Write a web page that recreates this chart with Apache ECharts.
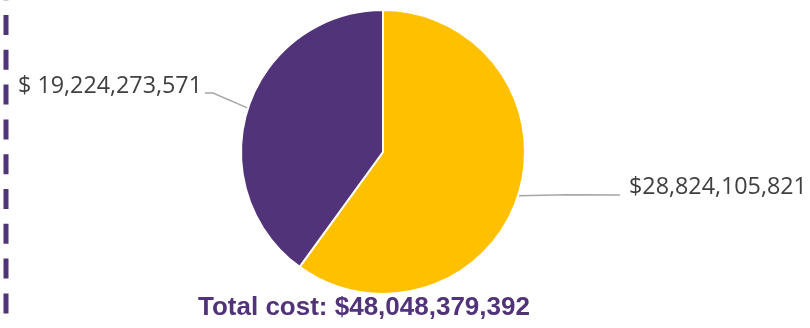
<!DOCTYPE html>
<html>
<head>
<meta charset="utf-8">
<script src="https://cdn.jsdelivr.net/npm/echarts@6/dist/echarts.min.js"></script>
<style>html,body{margin:0;padding:0;background:#fff;}#c{width:810px;height:328px;}</style>
</head>
<body>
<div id="c"></div>
<script>
var categories = ['Cost A', 'Cost B'];
var values = [28824105821, 19224273571];
var labelTexts = ['$28,824,105,821', '$ 19,224,273,571'];
var totalText = 'Total cost: $48,048,379,392';
var colors = ['#FFC000', '#503378'];

var chart = echarts.init(document.getElementById('c'), null, {renderer: 'canvas'});
var data = categories.map(function (c, i) {
  return { name: c, value: values[i], itemStyle: { color: colors[i] } };
});
chart.setOption({
  animation: false,
  graphic: [
    { type: 'line', shape: { x1: 6, y1: -19.8, x2: 6, y2: 340 },
      style: { stroke: '#503378', lineWidth: 5, lineDash: [20, 14.8] } },
    { type: 'text', left: 198, top: 295,
      style: { text: totalText, font: 'bold 26px "Liberation Sans", Arial', fill: '#503378' } }
  ],
  series: [{
    type: 'pie',
    center: [383, 152],
    radius: 142,
    startAngle: 90,
    clockwise: true,
    data: data,
    itemStyle: { borderColor: '#fff', borderWidth: 2 },
    label: {
      show: true,
      formatter: function (p) { return labelTexts[p.dataIndex]; },
      fontFamily: '"Open Sans"',
      fontSize: 23.3,
      color: '#404040'
    },
    labelLine: { show: true, lineStyle: { color: '#A6A6A6', width: 1.5 } },
    labelLayout: function (p) {
      var pts = p.labelLinePoints;
      var s = pts ? pts[0] : [0, 0];
      if (p.dataIndex === 0) {
        return { x: 629, y: 187, align: 'left', verticalAlign: 'middle',
          labelLinePoints: [s, [s[0] + 50, s[1] - 1], [620, 195]] };
      }
      return { x: 202, y: 86, align: 'right', verticalAlign: 'middle',
        labelLinePoints: [s, [213, 93], [205, 93]] };
    }
  }]
});
</script>
</body>
</html>
